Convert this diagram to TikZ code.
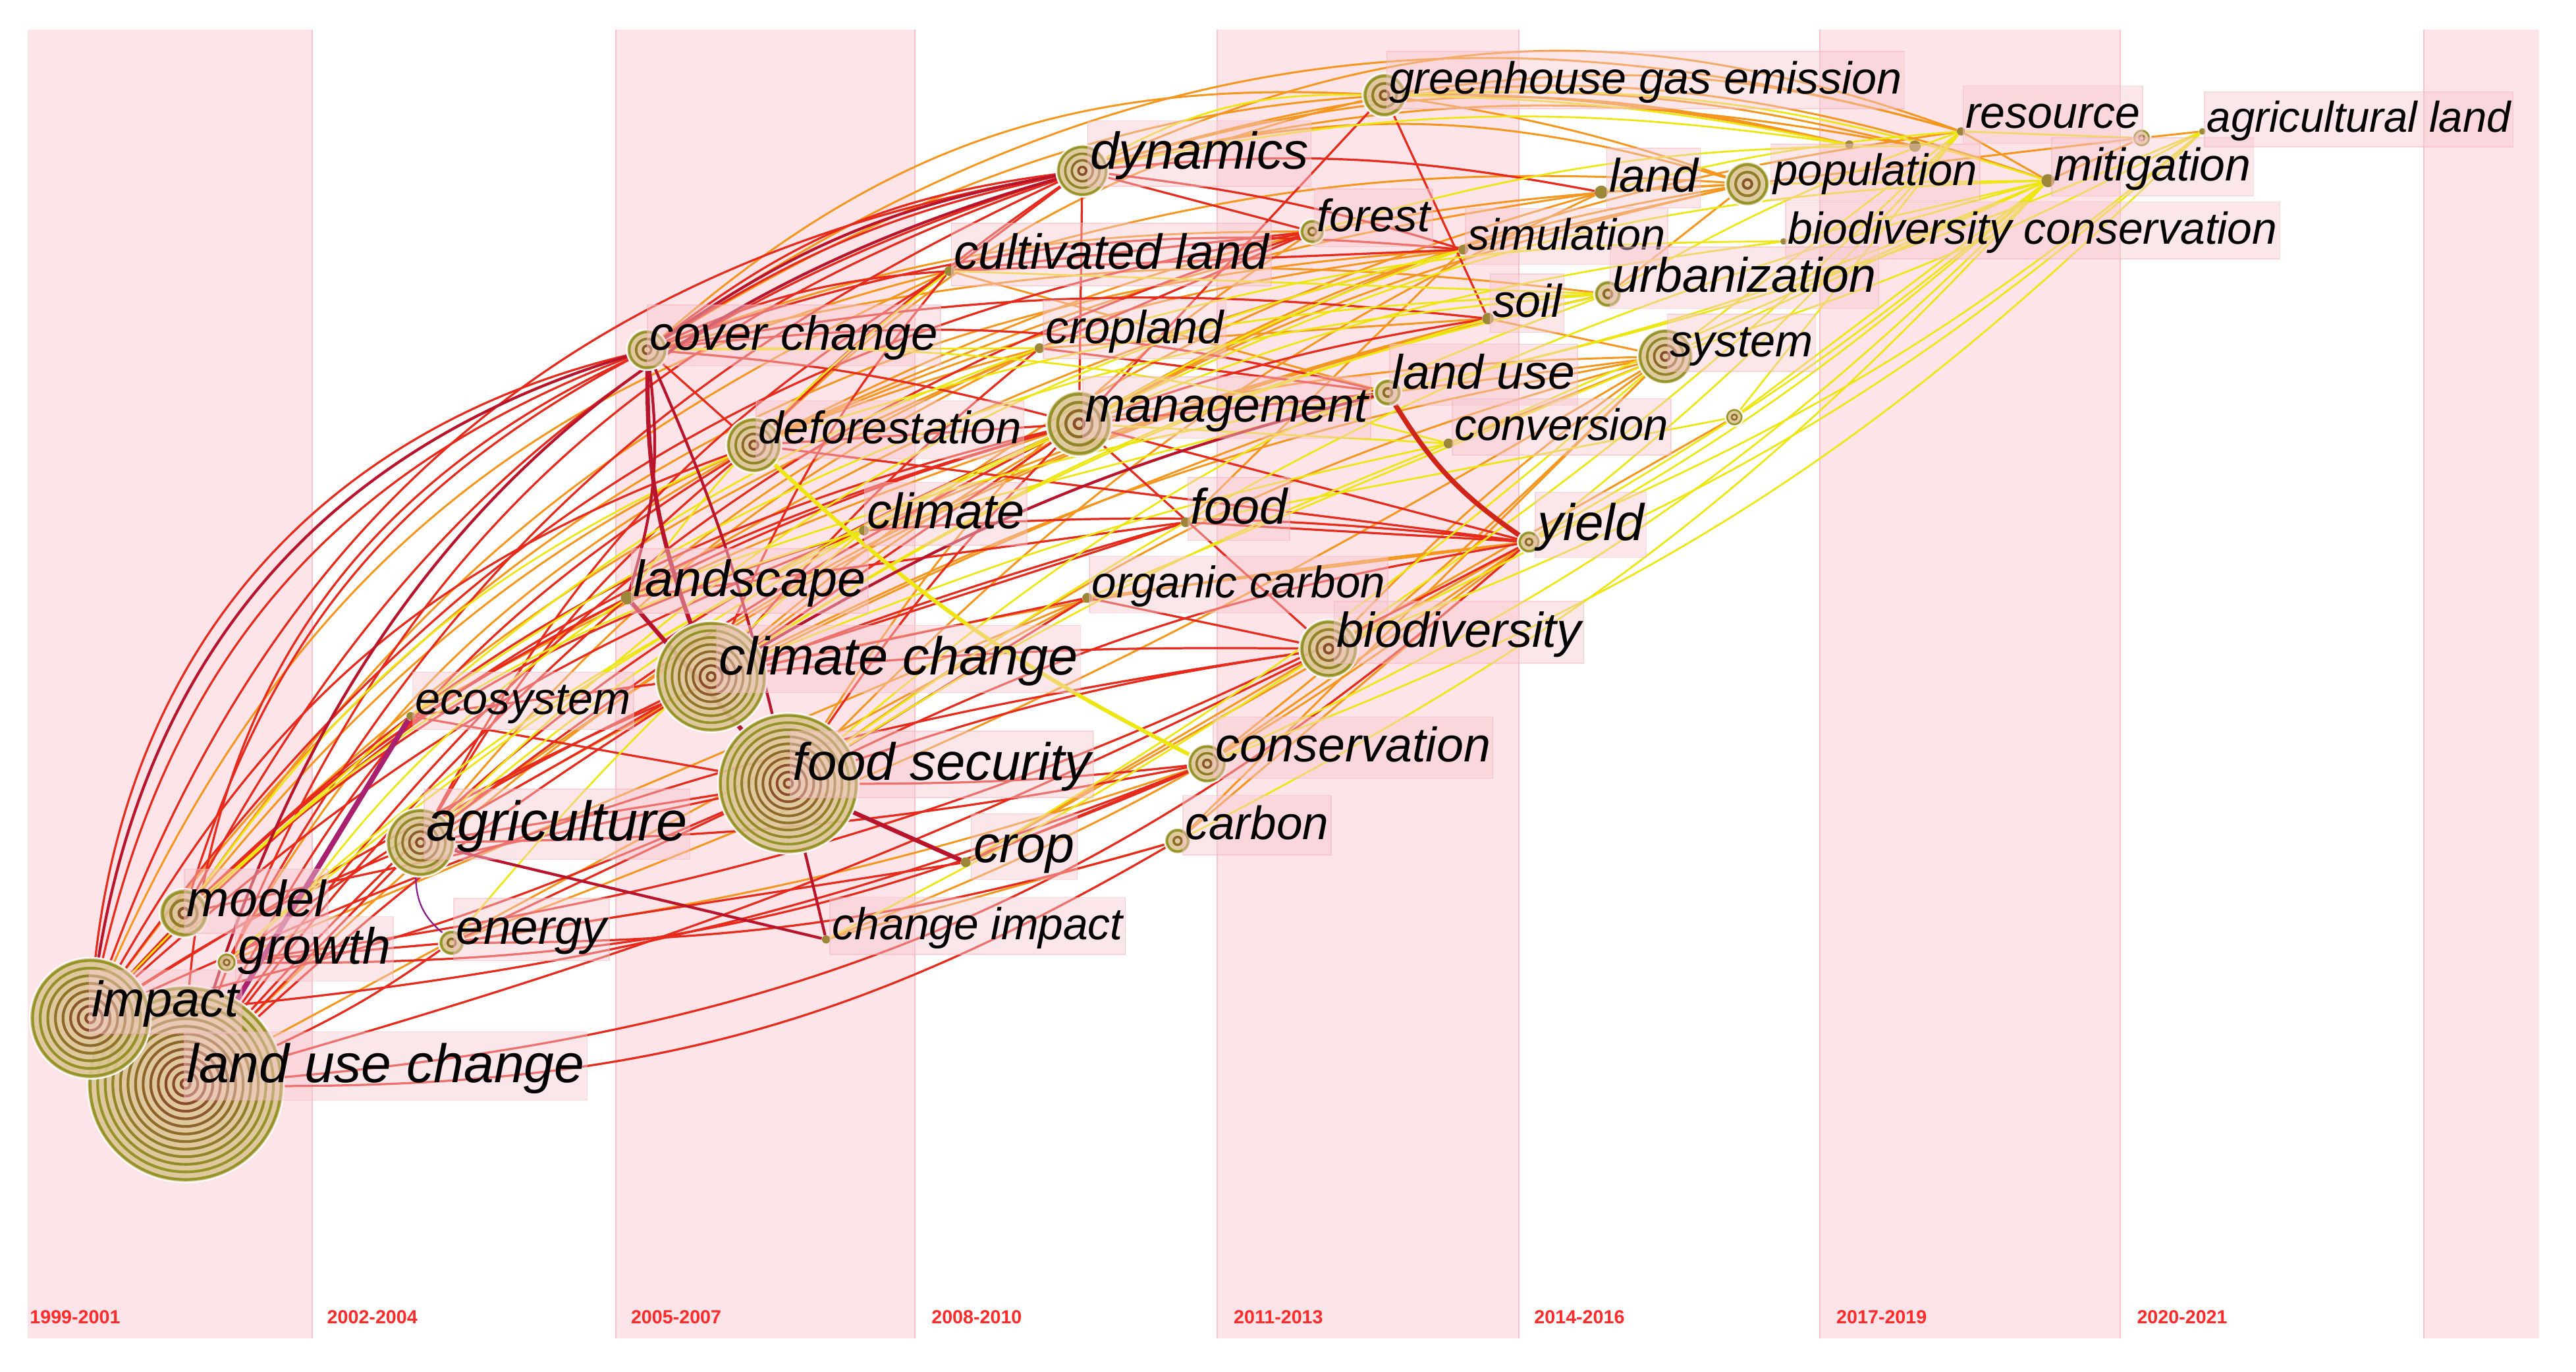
\documentclass[tikz,border=0pt]{standalone}
\usepackage{fontspec}
\setmainfont{Liberation Sans}
\usetikzlibrary{calc}
\definecolor{bandpink}{HTML}{FDE4E8}
\definecolor{bandline}{HTML}{F6C2CC}
\definecolor{boxpink}{HTML}{F7C9D0}
\definecolor{boxedge}{HTML}{F2AEBA}
\definecolor{yearred}{HTML}{FF2A2A}
\definecolor{ered}{HTML}{E62A1C}
\definecolor{edred}{HTML}{B8142C}
\definecolor{eorange}{HTML}{F5961E}
\definecolor{eyellow}{HTML}{EEE612}
\definecolor{epurple}{HTML}{A8206E}
\definecolor{ringfill}{HTML}{DCC696}
\definecolor{ringolive}{HTML}{949428}
\definecolor{ringbrown}{HTML}{8A4A2A}
\definecolor{ringsmall}{HTML}{9C8638}
\pgfdeclarelayer{bands}
\pgfdeclarelayer{edges}
\pgfsetlayers{bands,edges,main}
\newcommand\ringat[3]{%
  \ifdim #3pt>4.9pt
    \fill[ringfill,fill opacity=0.9] (#1,#2) circle[radius=#3pt];
    \pgfmathtruncatemacro\nr{max(2,round(#3/4.5))}%
    \foreach \k in {1,...,\nr}{%
      \pgfmathsetmacro\rr{#3*(\k-0.4)/\nr}%
      \pgfmathsetmacro\lw{0.36*#3/\nr}%
      \pgfmathtruncatemacro\mx{min(100,max(0,150*\k/\nr-35))}%
      \draw[line width=\lw pt, ringolive!\mx!ringbrown] (#1,#2) circle[radius=\rr pt];
    }%
    \draw[white, line width=0.8pt] (#1,#2) circle[radius=#3pt];
  \else
    \fill[ringsmall] (#1,#2) circle[radius=#3pt];
  \fi}
\newcommand\nd[4]{\node[circle,inner sep=0pt,minimum size={2*#4pt}] (#1) at (#2,#3) {};\ringat{#2}{#3}{#4}}
\newcommand\lab[5]{\node[lab,font=\fontsize{#4}{#4}\selectfont\itshape] (#1-t) at (#2,#3) {\rule[-0.3em]{0pt}{1.2em}#5};}
\tikzset{
  x=1pt,y=-1pt,
  lab/.style={anchor=base west,inner xsep=1.5pt,inner ysep=1pt,fill=boxpink,fill opacity=0.45,
    draw=boxedge,draw opacity=0.45,line width=0.6pt,text opacity=1,text=black},
  yr/.style={anchor=base west,inner sep=0pt,text=yearred,font=\fontsize{11.5}{12}\selectfont\bfseries},
  er/.style={ered,line width=1.3pt},
  eo/.style={eorange,line width=1.2pt},
  ey/.style={eyellow,line width=1.1pt},
  ed/.style={edred,line width=1.7pt},
}
\begin{document}
\begin{tikzpicture}
\useasboundingbox (0,0) rectangle (1568.5,835);
\begin{pgfonlayer}{bands}
\fill[white] (0,0) rectangle (1568.5,835);
\foreach \a/\b in {17/190,375/557,741/925,1108/1291,1476/1546}
  \fill[bandpink] (\a,18) rectangle (\b,815);
\foreach \a in {190,375,557,741,925,1108,1291,1476}
  \draw[bandline,line width=0.8pt] (\a,18) -- (\a,815);
\end{pgfonlayer}
% nodes
\nd{luc}{113}{660}{60}
\nd{imp}{55}{620}{37}
\nd{mod}{112}{556}{15}
\nd{gro}{138}{586}{6}
\nd{ene}{275}{574}{8}
\nd{agr}{256}{513}{21}
\nd{eco}{250}{436}{2.5}
\nd{fs}{480}{477}{43}
\nd{cc}{433}{412}{34}
\nd{lsc}{382}{364}{4}
\nd{cli}{526}{323}{3}
\nd{def}{459}{271}{17}
\nd{cov}{394}{213}{12.5}
\nd{dyn}{659}{104}{16}
\nd{cul}{578}{165}{3}
\nd{crl}{633}{212}{3}
\nd{man}{657}{258}{20}
\nd{foo}{722}{318}{3}
\nd{org}{662}{364}{3}
\nd{bio}{809}{395}{18}
\nd{con}{735}{465}{12}
\nd{car}{717}{512}{8}
\nd{cro}{588}{525}{3}
\nd{chi}{503}{572}{2.5}
\nd{ghg}{843}{58}{13.5}
\nd{for}{799}{141}{7.7}
\nd{sim}{891}{152}{3}
\nd{lnd}{975}{117}{4}
\nd{pop}{1064}{112}{13.5}
\nd{res}{1194}{80}{2.5}
\nd{mit}{1247}{110}{4}
\nd{agl}{1341}{80}{2}
\nd{bcn}{1086}{147}{2}
\nd{urb}{979}{179}{8.5}
\nd{soi}{906}{194}{3.5}
\nd{lu}{845}{239}{8.5}
\nd{cvn}{882}{270}{3}
\nd{sys}{1014}{217}{17}
\nd{unk}{1056}{254}{5.5}
\nd{yie}{931}{330}{7}
\nd{xa}{1304}{84}{5.6}
\nd{xb}{1126}{88}{2.5}
\nd{xc}{1166}{89}{3.5}
% edges
\begin{pgfonlayer}{edges}
\foreach \a/\b/\c in {dyn/res/22,dyn/pop/15,ghg/res/12,ghg/pop/5,cov/ghg/22,def/ghg/15,dyn/mit/18,man/sys/5,
 cc/sys/8,fs/sys/10,bio/sys/5,cli/urb/5,cov/urb/10,def/lnd/8,lsc/sim/8,eco/man/5,mod/cul/15,imp/crl/12,agr/lu/5,
 ene/con/-5,chi/car/0,cro/bio/0,cc/yie/3,con/yie/0,car/yie/0,foo/sim/0,org/yie/0,lu/sys/0,urb/pop/0,lnd/pop/0,
 sim/pop/0,soi/sys/0,cvn/sys/0,cul/lu/0,crl/soi/0,luc/org/0,gro/org/0,eco/lsc/0,bio/unk/0,man/pop/10,cov/for/10,
 def/sim/8,dyn/xb/15,ghg/xc/8,dyn/xc/12,cov/res/25,man/res/10,cc/pop/12,fs/lnd/10,imp/sim/25,luc/soi/15,
 agr/urb/12,ene/sys/-5,car/sys/0,con/sys/-3,chi/yie/-8,cro/yie/0,pop/xa/0,xa/agl/0,res/mit/0,mit/xa/0,
 cov/xb/22,def/pop/12,cul/pop/10,imp/cul/26,mod/crl/18,gro/def/15,agr/crl/12,lsc/crl/8,cc/lnd/12,fs/for/12}
 \draw[eo] (\a) to[bend left=\c] (\b);
\foreach \a/\b/\c in {imp/cov/35,imp/cov/28,luc/cov/30,mod/cov/22,imp/dyn/30,luc/dyn/25,mod/dyn/22,gro/dyn/18,
 imp/def/20,luc/def/15,imp/man/15,luc/man/12,imp/cli/10,luc/cc/5,imp/fs/-5,mod/fs/0,gro/cc/5,imp/agr/5,
 luc/agr/0,gro/ene/0,luc/ene/-5,imp/bio/8,luc/yie/-18,luc/car/-15,gro/con/-12,ene/car/-8,imp/lsc/10,luc/lsc/5,
 cov/dyn/15,cov/def/0,cov/man/5,cov/lu/10,cov/sim/12,dyn/for/0,dyn/lnd/8,dyn/man/0,def/man/0,cc/man/0,fs/man/5,
 fs/bio/5,cc/bio/3,man/yie/0,man/lu/0,cli/yie/5,cc/foo/0,fs/yie/8,agr/fs/0,agr/cc/0,agr/def/10,agr/man/5,eco/fs/0,
 eco/cc/0,chi/fs/0,cro/con/0,fs/con/-3,cc/crl/5,lsc/man/5,man/bio/0,org/bio/0,foo/yie/0,crl/lu/0,cul/sim/0,
 ghg/man/0,ghg/soi/0,mod/man/15,imp/foo/8,luc/bio/-5,gro/yie/-10,ene/cro/0,ene/fs/0,agr/con/-5,mod/cli/12,
 def/yie/0,cov/cul/10,def/cul/5,dyn/cul/0,dyn/sim/5,cc/cul/8,agr/cul/15,mod/lsc/8,imp/con/-8,lsc/foo/0,fs/org/0,
 cc/org/0,cul/for/0,crl/for/0,cov/dyn/10,def/dyn/5,imp/for/22,luc/for/18,cov/soi/8,man/soi/5}
 \draw[er] (\a) to[bend left=\c] (\b);
\foreach \a/\b/\c in {sys/mit/0,sys/agl/-5,unk/mit/0,yie/mit/-5,yie/agl/-8,lu/mit/-5,con/mit/-10,bio/agl/-10,
 bcn/mit/0,pop/mit/0,res/xa/0,sys/res/0,urb/res/5,lnd/res/5,ghg/mit/10,dyn/xb/10,cc/urb/10,fs/urb/10,man/cvn/0,
 cli/lu/0,lsc/cul/8,eco/crl/10,agr/cli/5,gro/cli/8,cov/crl/0,man/sim/5,fs/cvn/5,cro/sys/-5,cc/soi/8,chi/bio/-3,
 mod/eco/0,cli/bcn/10,foo/unk/0,imp/cli/15,luc/lsc/12,mod/def/15,gro/man/8,ene/cli/5,agr/sim/15,eco/urb/15,
 lsc/lu/5,cc/cvn/5,fs/mit/10,man/mit/12,bio/mit/-8,car/mit/-10,con/agl/-12,yie/res/-5,unk/res/0,cvn/mit/0,
 lu/agl/-5,ghg/xb/5,for/xc/8,dyn/ghg/15,cul/urb/0,crl/bcn/8,org/sys/0,bio/res/-5,def/urb/8,cov/cvn/8}
 \draw[ey] (\a) to[bend left=\c] (\b);
\draw[ey,line width=2.4pt] (def) to[bend left=-8] (con);
\foreach \a/\b/\c in {cov/fs/5,imp/cov/32,luc/dyn/28,cc/lu/8,chi/agr/0,fs/chi/0,cov/lsc/12,cov/dyn/12}
 \draw[ed] (\a) to[bend left=\c] (\b);
\draw[edred,line width=2.6pt] (cov) to[bend left=-10] (cc);
\draw[edred,line width=2.6pt] (lsc) -- (fs);
\draw[edred,line width=2.6pt] (fs) -- (cro);
\draw[ered!90!black,line width=3pt] (lu) to[bend left=-12] (yie);
\draw[epurple,line width=3.2pt] (eco) -- (luc);
\draw[epurple!80!blue,line width=0.9pt] (agr) to[bend left=-25] (ene);
\end{pgfonlayer}
% labels
\lab{luc}{112}{659}{33}{land use change}
\lab{imp}{54}{619}{30.5}{impact}
\lab{mod}{112}{558}{31}{model}
\lab{gro}{143}{587}{31}{growth}
\lab{ene}{276}{575}{30}{energy}
\lab{agr}{258}{512}{34}{agriculture}
\lab{eco}{251}{435}{27.5}{ecosystem}
\lab{fs}{481}{475}{32}{food security}
\lab{cc}{436}{411}{32.5}{climate change}
\lab{lsc}{384}{363}{31}{landscape}
\lab{cli}{526}{322}{30.3}{climate}
\lab{def}{460}{270}{27.7}{deforestation}
\lab{cov}{394}{213}{29.2}{cover change}
\lab{dyn}{662}{103}{31.5}{dynamics}
\lab{cul}{579}{164}{30}{cultivated land}
\lab{crl}{635}{209}{28.2}{cropland}
\lab{man}{659}{257}{29.5}{management}
\lab{foo}{723}{319}{30.3}{food}
\lab{org}{663}{364}{27}{organic carbon}
\lab{bio}{812}{394}{29.8}{biodiversity}
\lab{con}{738.5}{464}{29.5}{conservation}
\lab{car}{720}{511}{28.5}{carbon}
\lab{cro}{591}{525}{31.7}{crop}
\lab{chi}{505}{572}{27.2}{change impact}
\lab{ghg}{844}{57}{27.4}{greenhouse gas emission}
\lab{for}{800}{141}{27.6}{forest}
\lab{sim}{892}{152}{26.7}{simulation}
\lab{lnd}{978}{117}{28.6}{land}
\lab{pop}{1078}{113}{26.9}{population}
\lab{res}{1195}{78}{27.3}{resource}
\lab{mit}{1249}{110}{28}{mitigation}
\lab{agl}{1342}{80.5}{26.2}{agricultural land}
\lab{bcn}{1087}{148.5}{27.2}{biodiversity conservation}
\lab{urb}{980}{178}{29.5}{urbanization}
\lab{soi}{907}{193}{28}{soil}
\lab{lu}{846}{237}{29.4}{land use}
\lab{cvn}{884}{268}{26.9}{conversion}
\lab{sys}{1015}{217}{27.5}{system}
\lab{yie}{934.5}{329}{31.4}{yield}
% years
\node[yr] (y1) at (18,806) {1999-2001};
\node[yr] (y2) at (199,806) {2002-2004};
\node[yr] (y3) at (384,806) {2005-2007};
\node[yr] (y4) at (567,806) {2008-2010};
\node[yr] (y5) at (751,806) {2011-2013};
\node[yr] (y6) at (934,806) {2014-2016};
\node[yr] (y7) at (1118,806) {2017-2019};
\node[yr] (y8) at (1301,806) {2020-2021};
\end{tikzpicture}
\end{document}
